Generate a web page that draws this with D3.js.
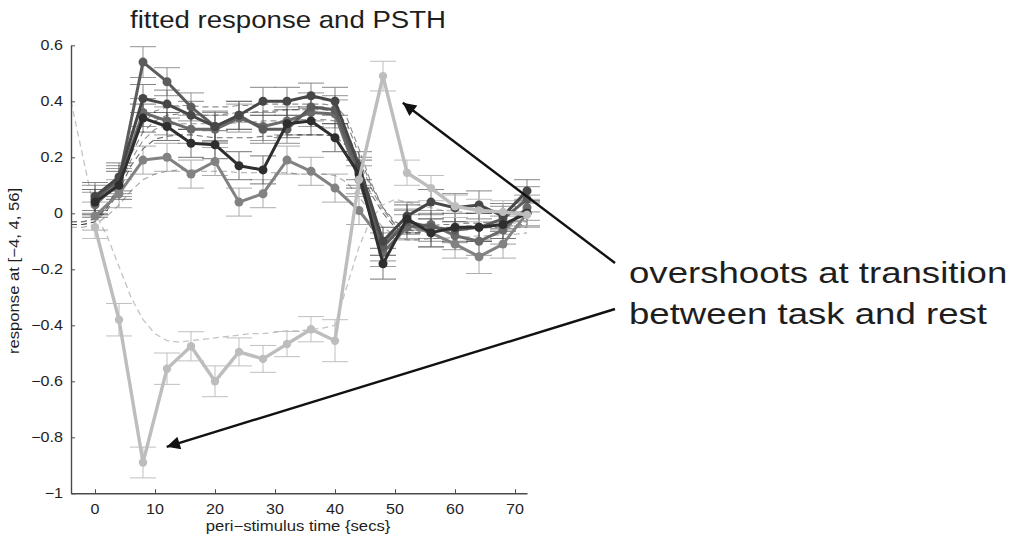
<!DOCTYPE html>
<html>
<head>
<meta charset="utf-8">
<script src="https://cdn.jsdelivr.net/npm/d3@7/dist/d3.min.js"></script>
<style>
  html, body { margin: 0; padding: 0; background: #fff; }
  svg { display: block; }
  text { font-family: "Liberation Sans", Arial, Helvetica, sans-serif; fill: #1e1e1e; }
</style>
</head>
<body>
<svg id="chart" width="1024" height="543"></svg>
<script>
// Peri-stimulus time bins (secs)
const times = [0, 4, 8, 12, 16, 20, 24, 28, 32, 36, 40, 44, 48, 52, 56, 60, 64, 68, 72];

// PSTH means per condition
const psthA = [0.05, 0.12, 0.54, 0.47, 0.38, 0.31, 0.35, 0.30, 0.30, 0.38, 0.37, 0.15, -0.12, -0.03, -0.05, -0.06, -0.05, -0.02, 0.05];
const psthB = [0.06, 0.13, 0.41, 0.39, 0.35, 0.31, 0.35, 0.40, 0.40, 0.42, 0.40, 0.17, -0.10, -0.01, 0.04, 0.02, 0.03, -0.01, 0.08];
const psthC = [0.04, 0.10, 0.34, 0.31, 0.25, 0.245, 0.17, 0.155, 0.32, 0.33, 0.27, 0.14, -0.18, -0.02, -0.07, -0.05, -0.05, -0.04, 0.00];
const psthD = [-0.01, 0.07, 0.19, 0.20, 0.14, 0.185, 0.04, 0.07, 0.19, 0.15, 0.09, 0.01, -0.10, -0.04, -0.07, -0.11, -0.155, -0.11, 0.00];
const psthE = [0.03, 0.11, 0.36, 0.33, 0.30, 0.30, 0.34, 0.31, 0.33, 0.36, 0.355, 0.12, -0.14, -0.05, -0.04, -0.08, -0.10, -0.06, 0.02];
const psthL = [-0.05, -0.38, -0.89, -0.555, -0.475, -0.60, -0.495, -0.52, -0.467, -0.414, -0.455, 0.12, 0.49, 0.145, 0.09, 0.025, 0.01, 0.005, -0.005];

// Standard errors of the PSTH bins
const errA = [0.05, 0.05, 0.055, 0.05, 0.05, 0.05, 0.05, 0.05, 0.05, 0.05, 0.05, 0.05, 0.05, 0.045, 0.05, 0.045, 0.05, 0.045, 0.045];
const errB = [0.05, 0.05, 0.05, 0.05, 0.05, 0.055, 0.05, 0.05, 0.05, 0.045, 0.05, 0.05, 0.05, 0.05, 0.045, 0.05, 0.05, 0.045, 0.04];
const errC = [0.045, 0.05, 0.05, 0.05, 0.05, 0.05, 0.05, 0.05, 0.05, 0.05, 0.05, 0.05, 0.055, 0.05, 0.05, 0.05, 0.05, 0.05, 0.045];
const errD = [0.05, 0.05, 0.05, 0.05, 0.05, 0.05, 0.05, 0.05, 0.05, 0.05, 0.05, 0.05, 0.05, 0.05, 0.05, 0.05, 0.06, 0.05, 0.05];
const errE = [0.045, 0.05, 0.05, 0.05, 0.05, 0.05, 0.05, 0.05, 0.05, 0.05, 0.05, 0.05, 0.05, 0.045, 0.05, 0.05, 0.05, 0.05, 0.045];
const errL = [0.04, 0.058, 0.055, 0.056, 0.052, 0.055, 0.05, 0.048, 0.045, 0.045, 0.075, 0.05, 0.053, 0.045, 0.045, 0.04, 0.04, 0.04, 0.04];

// Fitted response, sampled every 2 s
const fitTimes = [-4, -2, 0, 2, 4, 6, 8, 10, 12, 14, 16, 18, 20, 22, 24, 26, 28, 30, 32, 34, 36, 38, 40, 42, 44, 46, 48, 50, 52, 54, 56, 58, 60, 62, 64, 66, 68, 70, 72];
const fitA = [-0.04, -0.04, -0.03, 0.02, 0.11, 0.23, 0.32, 0.365, 0.38, 0.385, 0.385, 0.38, 0.38, 0.38, 0.385, 0.385, 0.39, 0.39, 0.39, 0.39, 0.39, 0.39, 0.385, 0.34, 0.23, 0.11, 0.02, -0.04, -0.06, -0.06, -0.055, -0.05, -0.05, -0.045, -0.045, -0.04, -0.04, -0.04, -0.04];
const fitB = [-0.03, -0.03, -0.02, 0.02, 0.10, 0.21, 0.29, 0.33, 0.35, 0.355, 0.355, 0.35, 0.35, 0.355, 0.36, 0.36, 0.365, 0.365, 0.37, 0.37, 0.37, 0.37, 0.365, 0.32, 0.21, 0.10, 0.02, -0.03, -0.05, -0.05, -0.045, -0.04, -0.04, -0.035, -0.035, -0.03, -0.03, -0.03, -0.03];
const fitC = [-0.04, -0.04, -0.03, 0.01, 0.08, 0.17, 0.23, 0.265, 0.275, 0.28, 0.28, 0.275, 0.27, 0.27, 0.27, 0.27, 0.275, 0.275, 0.28, 0.28, 0.28, 0.28, 0.275, 0.24, 0.16, 0.07, 0.00, -0.05, -0.07, -0.07, -0.065, -0.06, -0.06, -0.055, -0.055, -0.05, -0.05, -0.05, -0.05];
const fitD = [-0.05, -0.05, -0.04, -0.01, 0.03, 0.08, 0.12, 0.14, 0.15, 0.155, 0.155, 0.15, 0.15, 0.15, 0.145, 0.145, 0.145, 0.145, 0.145, 0.14, 0.14, 0.14, 0.135, 0.11, 0.06, 0.00, -0.05, -0.08, -0.095, -0.095, -0.09, -0.09, -0.085, -0.085, -0.08, -0.08, -0.075, -0.075, -0.07];
const fitE = [-0.03, -0.03, -0.02, 0.02, 0.09, 0.19, 0.26, 0.30, 0.315, 0.32, 0.32, 0.32, 0.32, 0.32, 0.325, 0.325, 0.33, 0.33, 0.33, 0.335, 0.335, 0.335, 0.33, 0.29, 0.19, 0.09, 0.01, -0.04, -0.06, -0.065, -0.06, -0.055, -0.055, -0.05, -0.05, -0.045, -0.045, -0.045, -0.045];
const fitL = [0.40, 0.20, 0.00, -0.08, -0.19, -0.30, -0.38, -0.43, -0.455, -0.46, -0.455, -0.45, -0.445, -0.44, -0.435, -0.43, -0.43, -0.425, -0.42, -0.42, -0.415, -0.41, -0.40, -0.26, -0.12, -0.02, 0.03, 0.05, 0.04, 0.03, 0.02, 0.01, 0.01, 0.00, 0.00, 0.00, 0.00, 0.00, 0.00];

// Axis ticks
const xTicks = [0, 10, 20, 30, 40, 50, 60, 70];
const yTicks = [-1, -0.8, -0.6, -0.4, -0.2, 0, 0.2, 0.4, 0.6];

// Text labels
const titleText = "fitted response and PSTH";
const xLabelText = "peri\u2212stimulus time {secs}";
const yLabelText = "response at [\u22124, 4, 56]";
const noteLines = ["overshoots at transition", "between task and rest"];

const series = [
  { mean: psthD, err: errD, fit: fitD, color: "#828282" },
  { mean: psthE, err: errE, fit: fitE, color: "#6a6a6a" },
  { mean: psthA, err: errA, fit: fitA, color: "#5c5c5c" },
  { mean: psthB, err: errB, fit: fitB, color: "#474747" },
  { mean: psthC, err: errC, fit: fitC, color: "#2e2e2e" },
  { mean: psthL, err: errL, fit: fitL, color: "#bdbdbd", light: true }
];

const svg = d3.select("#chart");
const x = d3.scaleLinear().domain([-4, 72]).range([71, 527]);
const y = d3.scaleLinear().domain([-1, 0.6]).range([493.3, 45.3]);
const SX = 1.15;          // horizontal stretch of the lettering
const capHalf = 13;       // error-bar cap half width (px)

// fitted responses (dashed)
const fitLine = d3.line().x((d, i) => x(fitTimes[i])).y(d => y(d));
series.forEach(s => {
  svg.append("path")
    .attr("d", fitLine(s.fit))
    .attr("fill", "none")
    .attr("stroke", s.color)
    .attr("stroke-width", s.light ? 1.3 : 1.1)
    .attr("stroke-dasharray", "6,4")
    .attr("opacity", s.light ? 0.9 : 0.7);
});

// error bars
series.forEach(s => {
  const g = svg.append("g")
    .attr("stroke", s.color)
    .attr("stroke-width", 1)
    .attr("opacity", s.light ? 0.95 : 0.65);
  times.forEach((t, i) => {
    const cx = x(t), hi = y(s.mean[i] + s.err[i]), lo = y(s.mean[i] - s.err[i]);
    g.append("line").attr("x1", cx).attr("x2", cx).attr("y1", hi).attr("y2", lo);
    g.append("line").attr("x1", cx - capHalf).attr("x2", cx + capHalf).attr("y1", hi).attr("y2", hi);
    g.append("line").attr("x1", cx - capHalf).attr("x2", cx + capHalf).attr("y1", lo).attr("y2", lo);
  });
});

// PSTH lines with markers
const meanLine = d3.line().x((d, i) => x(times[i])).y(d => y(d));
series.forEach(s => {
  svg.append("path")
    .attr("d", meanLine(s.mean))
    .attr("fill", "none")
    .attr("stroke", s.color)
    .attr("stroke-width", s.light ? 3.4 : 3)
    .attr("stroke-linejoin", "round");
  svg.append("g").selectAll("circle")
    .data(s.mean)
    .join("circle")
    .attr("cx", (d, i) => x(times[i]))
    .attr("cy", d => y(d))
    .attr("r", s.light ? 4.2 : 4.5)
    .attr("fill", s.color);
});

// axes (box off, inward ticks)
const axisColor = "#4a4a4a";
const xAxis = svg.append("g").attr("transform", `translate(0,${y(-1)})`)
  .call(d3.axisBottom(x).tickValues(xTicks).tickSizeInner(-4).tickSizeOuter(0).tickFormat(""));
const yAxis = svg.append("g").attr("transform", `translate(${x(-4)},0)`)
  .call(d3.axisLeft(y).tickValues(yTicks).tickSizeInner(-4).tickSizeOuter(0).tickFormat(""));
[xAxis, yAxis].forEach(a => {
  a.selectAll("path.domain").attr("stroke", axisColor).attr("stroke-width", 1.4);
  a.selectAll(".tick line").attr("stroke", axisColor).attr("stroke-width", 1);
});

const fmt = v => (v === 0 ? "0" : d3.format("")(v).replace("-", "\u2212"));
yTicks.forEach(v => {
  svg.append("text")
    .attr("transform", `translate(63,${y(v) + 5}) scale(${SX},1)`)
    .attr("text-anchor", "end")
    .attr("font-size", 14)
    .text(fmt(v));
});
xTicks.forEach(v => {
  svg.append("text")
    .attr("transform", `translate(${x(v)},514) scale(${SX},1)`)
    .attr("text-anchor", "middle")
    .attr("font-size", 14)
    .text(fmt(v));
});

// title and axis labels
svg.append("text")
  .attr("transform", `translate(288,28) scale(${SX},1)`)
  .attr("text-anchor", "middle")
  .attr("font-size", 24)
  .text(titleText);
svg.append("text")
  .attr("transform", `translate(298,531) scale(${SX},1)`)
  .attr("text-anchor", "middle")
  .attr("font-size", 14.5)
  .text(xLabelText);
svg.append("text")
  .attr("transform", `translate(19,271) rotate(-90) scale(${SX},1)`)
  .attr("text-anchor", "middle")
  .attr("font-size", 14.5)
  .text(yLabelText);

// annotation
noteLines.forEach((line, i) => {
  svg.append("text")
    .attr("transform", `translate(629,${283 + i * 41}) scale(1.22,1)`)
    .attr("font-size", 30)
    .attr("fill", "#111")
    .text(line);
});

svg.append("defs").append("marker")
  .attr("id", "head")
  .attr("viewBox", "0 0 10 10")
  .attr("refX", 10).attr("refY", 5)
  .attr("markerWidth", 6.5).attr("markerHeight", 5.5)
  .attr("markerUnits", "strokeWidth")
  .attr("orient", "auto")
  .append("path").attr("d", "M0,0 L10,5 L0,10 z").attr("fill", "#111");

const arrows = [
  { from: [615, 263], to: [51.3, 0.395] },
  { from: [615, 309], to: [11.95, -0.834] }
];
arrows.forEach(a => {
  svg.append("line")
    .attr("x1", a.from[0]).attr("y1", a.from[1])
    .attr("x2", x(a.to[0])).attr("y2", y(a.to[1]))
    .attr("stroke", "#111")
    .attr("stroke-width", 2.4)
    .attr("marker-end", "url(#head)");
});
</script>
</body>
</html>
